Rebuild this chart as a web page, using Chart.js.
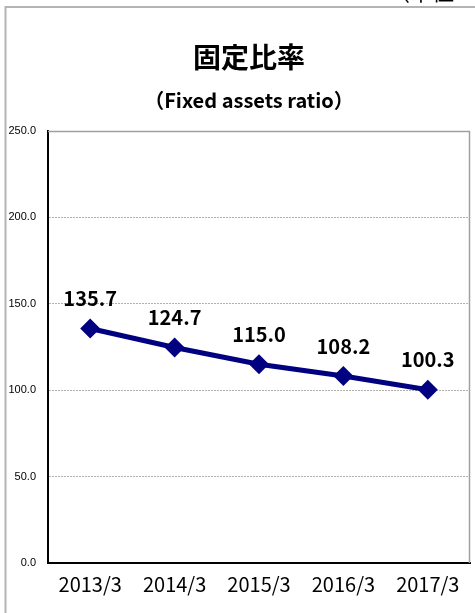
<!DOCTYPE html>
<html>
<head>
<meta charset="utf-8">
<script src="https://cdn.jsdelivr.net/npm/chart.js@4/dist/chart.umd.min.js"></script>
<style>
  html, body { margin: 0; padding: 0; background: #fff; overflow: hidden; }
  #wrap { width: 475px; height: 613px; position: relative; }
</style>
</head>
<body>
<div id="wrap"><canvas id="ratioChart"></canvas></div>
<script>
const labels = ["2013/3", "2014/3", "2015/3", "2016/3", "2017/3"];
const ratioValues = [135.7, 124.7, 115.0, 108.2, 100.3];
const yTicks = [0, 50, 100, 150, 200, 250];
const titleText = "固定比率";
const subtitleText = "（Fixed assets ratio）";
const unitText = "（単位：%）";

const jpFont = '"Noto Sans CJK JP", "Noto Sans", sans-serif';

// frame, titles, unit note and plot border
const decorPlugin = {
    id: 'decor',
    beforeDraw(chart) {
        const c = chart.ctx;
        c.save();
        c.strokeStyle = '#b4b4b4';
        c.lineWidth = 2;
        c.beginPath();
        c.moveTo(5.5, 613);
        c.lineTo(5.5, 7);
        c.lineTo(475, 7);
        c.stroke();
        c.restore();
    },
    afterDraw(chart) {
        const c = chart.ctx;
        const a = chart.chartArea;
        c.save();
        c.fillStyle = '#000';
        c.textAlign = 'center';
        c.textBaseline = 'middle';
        c.font = 'bold 28px ' + jpFont;
        c.fillText(titleText, 249, 57);
        c.font = 'bold 20px ' + jpFont;
        c.fillText(subtitleText, 249, 100);
        c.textAlign = 'left';
        c.textBaseline = 'alphabetic';
        c.font = '22px ' + jpFont;
        c.fillText(unitText, 388, 0);

        // top and right border of plot
        c.strokeStyle = '#a0a0a0';
        c.lineWidth = 1.5;
        c.beginPath();
        c.moveTo(a.left, a.top + 0.5);
        c.lineTo(a.right - 0.5, a.top + 0.5);
        c.lineTo(a.right - 0.5, a.bottom);
        c.stroke();

        // value labels above points
        const meta = chart.getDatasetMeta(0);
        c.font = 'bold 20px ' + jpFont;
        c.textAlign = 'center';
        c.textBaseline = 'middle';
        meta.data.forEach((pt, i) => {
            c.fillText(ratioValues[i].toFixed(1), pt.x, pt.y - 30);
        });
        c.restore();
    }
};

const ctx = document.getElementById('ratioChart').getContext('2d');
const chart = new Chart(ctx, {
    type: 'line',
    data: {
        labels: labels,
        datasets: [{
            data: ratioValues,
            borderColor: '#000080',
            backgroundColor: '#000080',
            borderWidth: 5,
            pointStyle: 'rectRot',
            pointRadius: 10,
            pointHoverRadius: 10,
            pointBorderWidth: 0,
            fill: false,
            tension: 0
        }]
    },
    options: {
        responsive: true,
        maintainAspectRatio: false,
        animation: false,
        layout: {
            autoPadding: false,
            padding: { top: 131, right: 5, bottom: 0, left: 0 }
        },
        plugins: {
            legend: { display: false },
            title: { display: false },
            tooltip: { enabled: false }
        },
        scales: {
            x: {
                offset: true,
                grid: { display: false, drawTicks: false },
                border: { color: '#000', width: 2 },
                ticks: {
                    color: '#000',
                    padding: 9,
                    font: { family: jpFont, size: 20 }
                },
                afterFit(scale) { scale.height = 50; }
            },
            y: {
                min: 0,
                max: 250,
                afterBuildTicks(scale) {
                    scale.ticks = yTicks.map(v => ({ value: v }));
                },
                grid: {
                    color: '#b0b0b0',
                    lineWidth: 1,
                    drawTicks: false
                },
                border: { color: '#000', width: 2, dash: [2, 1] },
                ticks: {
                    color: '#000',
                    padding: 12,
                    font: { family: '"Liberation Sans", Arial, sans-serif', size: 11 },
                    callback: v => Number(v).toFixed(1)
                },
                afterFit(scale) { scale.width = 48; }
            }
        }
    },
    plugins: [decorPlugin]
});
</script>
</body>
</html>
